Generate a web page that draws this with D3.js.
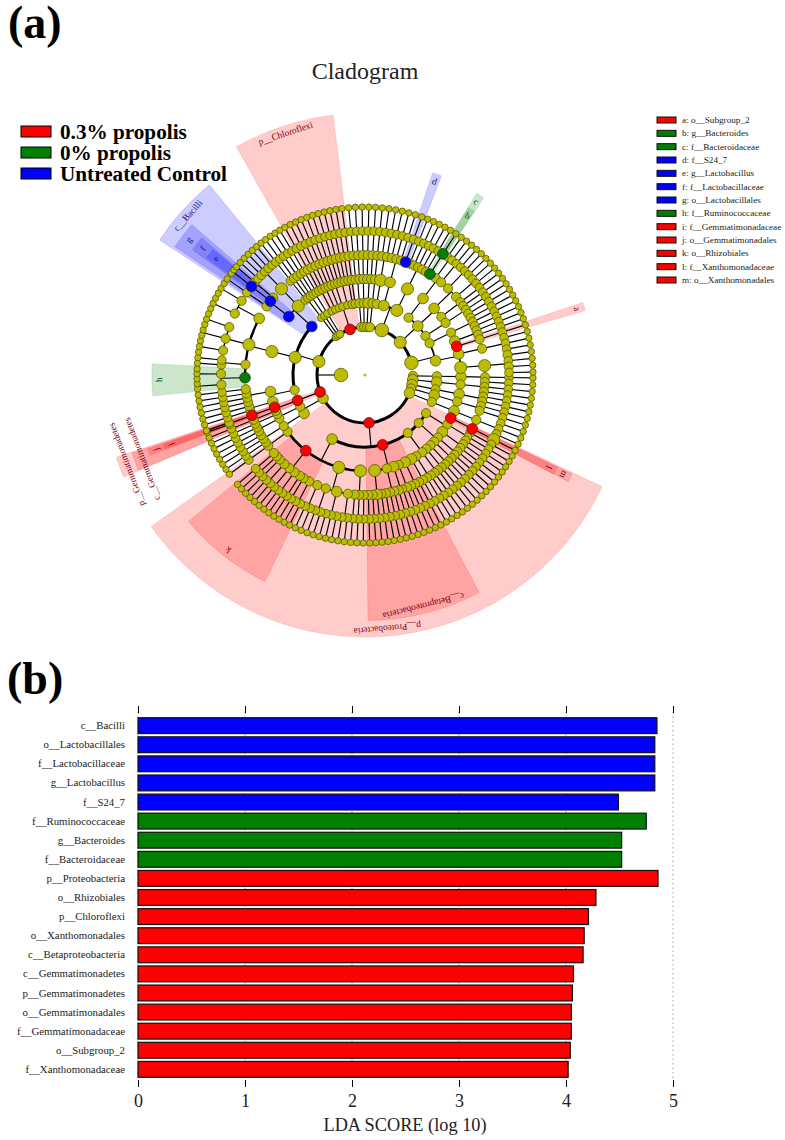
<!DOCTYPE html>
<html>
<head>
<meta charset="utf-8">
<script src="https://cdn.jsdelivr.net/npm/d3@7"></script>
<style>
  body { margin: 0; background: #fff; }
  text { font-family: "Liberation Serif", serif; }
</style>
</head>
<body>
<div id="chart"></div>
<script>
// Panel (b) values
const barNames = ["c__Bacilli", "o__Lactobacillales", "f__Lactobacillaceae", "g__Lactobacillus", "f__S24_7",
  "f__Ruminococcaceae", "g__Bacteroides", "f__Bacteroidaceae", "p__Proteobacteria", "o__Rhizobiales",
  "p__Chloroflexi", "o__Xanthomonadales", "c__Betaproteobacteria", "c__Gemmatimonadetes", "p__Gemmatimonadetes",
  "o__Gemmatimonadales", "f__Gemmatimonadaceae", "o__Subgroup_2", "f__Xanthomonadaceae"];
const barScores = [4.85, 4.83, 4.83, 4.83, 4.49, 4.75, 4.52, 4.52, 4.86, 4.28, 4.21, 4.17, 4.16, 4.07, 4.06, 4.05, 4.05, 4.04, 4.02];
const barGroups = ["ctrl", "ctrl", "ctrl", "ctrl", "ctrl", "zero", "zero", "zero", "prop", "prop", "prop", "prop", "prop", "prop", "prop", "prop", "prop", "prop", "prop"];
const scoreTicks = [0, 1, 2, 3, 4, 5];

// Groups
const groupKeys = ["prop", "zero", "ctrl"];
const groupNames = ["0.3% propolis", "0% propolis", "Untreated Control"];
const groupColors = ["#ff0000", "#008000", "#0000ff"];
const groupInk = ["#7a0010", "#005020", "#15157a"];

// Cladogram legend
const keyLabels = ["a: o__Subgroup_2", "b: g__Bacteroides", "c: f__Bacteroidaceae", "d: f__S24_7", "e: g__Lactobacillus",
  "f: f__Lactobacillaceae", "g: o__Lactobacillales", "h: f__Ruminococcaceae", "i: f__Gemmatimonadaceae",
  "j: o__Gemmatimonadales", "k: o__Rhizobiales", "l: f__Xanthomonadaceae", "m: o__Xanthomonadales"];
const keyGroups = ["prop", "zero", "zero", "ctrl", "ctrl", "ctrl", "ctrl", "zero", "prop", "prop", "prop", "prop", "prop"];

// Highlighted clades: tag used in the tree strings, label, group, span in degrees clockwise from the top
const cladeTags = ["P", "Q", "U", "S", "T", "V", "A", "G", "J", "K", "M", "C", "D", "F", "H", "I", "L", "B", "E"];
const cladeLabels = ["p__Proteobacteria", "p__Chloroflexi", "p__Gemmatimonadetes", "c__Bacilli", "c__Betaproteobacteria", "c__Gemmatimonadetes",
  "a", "g", "j", "k", "m", "c", "d", "f", "h", "i", "l", "b", "e"];
const cladeGroups = ["prop", "prop", "prop", "ctrl", "prop", "prop", "prop", "ctrl", "prop", "prop", "prop", "zero", "ctrl", "ctrl", "zero", "prop", "prop", "zero", "ctrl"];
const cladeStart = [115.2, 330.6, 247.1, 303.3, 152.3, 247.2, 71.6, 304, 249.5, 205.8, 115.5, 31.6, 18.5, 306, 264.4, 249.7, 115.6, 31.7, 306.5];
const cladeEnd = [234.7, 353, 251.7, 320.7, 179.3, 251.5, 73.7, 311, 251.2, 230.3, 117.7, 33.8, 21, 310, 273, 251, 117.7, 33.8, 309.5];

// Taxonomy tree, one string per phylum, clockwise from 3 o'clock.
// digit = abundance class, . = default class, capital = clade tag, () = children.
// A branch that stops early is carried on to the outer ring.
const phylumTrees = [
  "3(3(4))",
  "4(4(3(3.3)))",
  "4(3(4(..)))",
  "3(4(3(..)))",
  "4(3(4(3(..3))))",
  `4P(
    3(4M(4L(5)) 3(.2.) 4(..))
    3(3(..)3)
    3(3(..)3(.)3(..)3(..)4(.))
    4T(4(..3)3(.)4(2.)3(..)5(3.4.3))
    4(5(..3)
      5(3(..)4(...)3(..)3(..))
      4K(3(..)3 3 3(..)3 3(..)3 3 3)
      .)
  )`,
  "4(4(3(...))3(3(..)3))",
  "4U(4V(3 4J(4I(..))))",
  `5(
    3(4(..)4(....))
    5(5(4H(3(..)3(...)) 3(..) 5(3(...)3(..)3(...)) 4(3(...)3(...))))
    4S(4G(3 4F(4E(..)) 3) 5(5(.3.3.)))
  )`,
  "2(2(..))",
  "2(2(.))",
  "2(2(..))",
  "4Q(2(..)2 2(..)2 2(...)3 .)",
  "3(3(..))",
  "3(3(.))",
  "3(4(..))",
  "3(3(.))",
  "6(3(5(..)) 4(4(...)) 5(5(4D 3.3.3 4C(4B))))",
  "5(3(4(3(..)3)) 4(4(3(...)3(..))3(.)) 3(3(...)))",
  "6(3(3(...)) 4(4(..) 4A 4(3(...)) 5(5(3.3.))))"
];
const firstLeafAngle = 91;
const lastLeafAngle = 449;

// ---- tree helpers
function parseClade(str) {
  const s = str.replace(/\s+/g, "");
  let i = 0;
  function node() {
    const n = { size: null, tag: null, children: [] };
    if (/[0-9]/.test(s[i])) n.size = +s[i];
    i++;
    if (/[A-Z]/.test(s[i])) { n.tag = s[i]; i++; }
    if (s[i] === "(") {
      i++;
      while (s[i] !== ")") n.children.push(node());
      i++;
    }
    return n;
  }
  return node();
}

function carryOn(n, depth) {
  if (depth < 6 && n.children.length === 0) n.children.push({ size: null, tag: null, children: [] });
  n.children.forEach(c => carryOn(c, depth + 1));
}

const kingdom = { size: 6, tag: null, children: phylumTrees.map(parseClade) };
carryOn(kingdom, 0);
const root = d3.hierarchy(kingdom);
const leaves = root.leaves();
leaves.forEach((d, i) => d.leafIndex = i);

const unwrap = a => a < 90 ? a + 360 : a;
const toRad = a => a * Math.PI / 180;

// pin the leaves to the clade spans, deepest clade wins
const clades = cladeTags.map((tag, i) => {
  const node = root.descendants().find(d => d.data.tag === tag);
  return { tag, node, label: cladeLabels[i], group: cladeGroups[i], start: unwrap(cladeStart[i]), end: unwrap(cladeEnd[i]) };
});
const pins = new Map([[0, firstLeafAngle], [leaves.length - 1, lastLeafAngle]]);
clades.slice().sort((a, b) => a.node.depth - b.node.depth).forEach(c => {
  const ls = c.node.leaves();
  const span = c.end - c.start;
  if (ls.length === 1) { pins.set(ls[0].leafIndex, (c.start + c.end) / 2); return; }
  const m = Math.min(0.9, span / 4);
  pins.set(ls[0].leafIndex, c.start + m);
  pins.set(ls[ls.length - 1].leafIndex, c.end - m);
});
const pinList = Array.from(pins).sort((a, b) => a[0] - b[0]);
const leafAngle = d3.scaleLinear().domain(pinList.map(d => d[0])).range(pinList.map(d => d[1]));

// a node sits half way along the leaves below it
root.each(d => {
  const ls = d.leaves();
  d.angle = (leafAngle(ls[0].leafIndex) + leafAngle(ls[ls.length - 1].leafIndex)) / 2;
});

// ---- drawing
const width = 785, height = 1140;
const svg = d3.select("#chart").append("svg")
  .attr("width", width).attr("height", height)
  .style("display", "block");
svg.append("rect").attr("width", width).attr("height", height).attr("fill", "#fff");

const colorOf = d3.scaleOrdinal().domain(groupKeys).range(groupColors);
const inkOf = d3.scaleOrdinal().domain(groupKeys).range(groupInk);

svg.append("text").attr("x", 8).attr("y", 38).attr("font-size", 46).attr("font-weight", "bold").text("(a)");
svg.append("text").attr("x", 7).attr("y", 694).attr("font-size", 46).attr("font-weight", "bold").text("(b)");
svg.append("text").attr("x", 365).attr("y", 79).attr("text-anchor", "middle").attr("font-size", 24).attr("fill", "#222").text("Cladogram");

// group legend
const groupY = d3.scalePoint().domain(groupKeys).range([131.5, 173.5]);
const groupLegend = svg.append("g").selectAll("g").data(groupKeys).join("g")
  .attr("transform", d => `translate(21,${groupY(d)})`);
groupLegend.append("rect").attr("y", -5.5).attr("width", 30).attr("height", 11)
  .attr("fill", d => colorOf(d)).attr("stroke", "#000").attr("stroke-width", 1);
groupLegend.append("text").attr("x", 39).attr("y", 7).attr("font-size", 21.2).attr("font-weight", "bold")
  .text((d, i) => groupNames[i]);

// key legend
const keyY = d3.scalePoint().domain(keyLabels).range([120, 280]);
const keyLegend = svg.append("g").selectAll("g").data(keyLabels).join("g")
  .attr("transform", d => `translate(657,${keyY(d)})`);
keyLegend.append("rect").attr("y", -3).attr("width", 19).attr("height", 6)
  .attr("fill", (d, i) => colorOf(keyGroups[i])).attr("stroke", "#111").attr("stroke-width", 1);
keyLegend.append("text").attr("x", 25).attr("y", 3).attr("font-size", 9.2).attr("fill", "#222").text(d => d);

// cladogram
const clado = svg.append("g").attr("transform", "translate(365,375)");
const ringRadius = d3.scaleLinear().domain([0, 6]).range([24, 168]);
const wedgeOuter = d3.scaleLinear().domain([1, 5]).range([262, 197]);
const nodeRadius = d3.scaleLinear().domain([1, 7]).range([3.2, 7.5]);
const defaultClass = [6, 2, 2.4, 3, 2.9, 2.6, 1];
const arcWidth = d3.scaleLinear().domain([2, 30]).range([1, 3]).clamp(true);
const wedgeArc = d3.arc();

clado.append("g").selectAll("path").data(clades).join("path")
  .attr("d", c => wedgeArc({ innerRadius: ringRadius(c.node.depth), outerRadius: wedgeOuter(c.node.depth), startAngle: toRad(c.start), endAngle: toRad(c.end) }))
  .attr("fill", c => colorOf(c.group)).attr("fill-opacity", 0.2)
  .attr("stroke", c => colorOf(c.group)).attr("stroke-opacity", 0.12);

clado.append("g").selectAll("text").data(clades).join("text")
  .attr("transform", c => {
    const mid = (c.start + c.end) / 2;
    const [x, y] = d3.pointRadial(toRad(mid), wedgeOuter(c.node.depth) - 7.5);
    return `translate(${x},${y}) rotate(${mid})`;
  })
  .attr("text-anchor", "middle").attr("dominant-baseline", "central")
  .attr("font-size", 9.3).attr("fill", c => inkOf(c.group))
  .text(c => c.label);

const parents = root.descendants().filter(d => d.children);
clado.append("g").selectAll("line").data(parents).join("line")
  .attr("x1", d => d3.pointRadial(toRad(d.angle), ringRadius(d.depth))[0])
  .attr("y1", d => d3.pointRadial(toRad(d.angle), ringRadius(d.depth))[1])
  .attr("x2", d => d3.pointRadial(toRad(d.angle), ringRadius(d.depth + 1))[0])
  .attr("y2", d => d3.pointRadial(toRad(d.angle), ringRadius(d.depth + 1))[1])
  .attr("stroke", "#000").attr("stroke-width", 1.15);

clado.append("g").selectAll("path").data(parents.filter(d => d.children.length > 1)).join("path")
  .attr("d", d => wedgeArc({
    innerRadius: ringRadius(d.depth + 1), outerRadius: ringRadius(d.depth + 1),
    startAngle: toRad(d.children[0].angle), endAngle: toRad(d.children[d.children.length - 1].angle)
  }))
  .attr("fill", "none").attr("stroke", "#000")
  .attr("stroke-width", d => arcWidth(d.leaves().length));

const tagGroup = new Map(clades.map(c => [c.tag, c.group]));
const allNodes = root.descendants().sort((a, b) => (a.data.tag ? 1 : 0) - (b.data.tag ? 1 : 0) || b.depth - a.depth);
clado.append("g").selectAll("circle").data(allNodes).join("circle")
  .attr("cx", d => d3.pointRadial(toRad(d.angle), ringRadius(d.depth))[0])
  .attr("cy", d => d3.pointRadial(toRad(d.angle), ringRadius(d.depth))[1])
  .attr("r", d => nodeRadius(d.data.size === null ? defaultClass[d.depth] : d.data.size))
  .attr("fill", d => d.data.tag ? colorOf(tagGroup.get(d.data.tag)) : "#bcbc00")
  .attr("stroke", d => d.data.tag ? "#222" : "#4a4a00").attr("stroke-width", 0.7);

clado.append("circle").attr("r", 1.5).attr("fill", "#bcbc00");

// panel b
const x = d3.scaleLinear().domain([0, 5]).range([138, 673]);
const y = d3.scaleBand().domain(barNames).range([716, 1079]).paddingInner(0.17).paddingOuter(0.09);

svg.append("g").selectAll("line").data(scoreTicks).join("line")
  .attr("x1", d => x(d)).attr("x2", d => x(d)).attr("y1", 712).attr("y2", 1081)
  .attr("stroke", "#888").attr("stroke-width", 0.8).attr("stroke-dasharray", "1.5,3");

svg.append("g").selectAll("rect").data(barNames).join("rect")
  .attr("x", x(0))
  .attr("y", d => y(d))
  .attr("width", (d, i) => x(barScores[i]) - x(0))
  .attr("height", y.bandwidth())
  .attr("fill", (d, i) => colorOf(barGroups[i]))
  .attr("stroke", "#111").attr("stroke-width", 1.2);

svg.append("g").selectAll("text").data(barNames).join("text")
  .attr("x", 125).attr("y", d => y(d) + y.bandwidth() / 2)
  .attr("dy", "0.33em").attr("text-anchor", "end")
  .attr("font-size", 10.8).attr("fill", "#222").text(d => d);

const axisTop = svg.append("g").attr("transform", "translate(0,713)")
  .call(d3.axisTop(x).tickValues(scoreTicks).tickSize(7).tickFormat(""));
axisTop.select(".domain").remove();

const axisBottom = svg.append("g").attr("transform", "translate(0,1080)")
  .call(d3.axisBottom(x).tickValues(scoreTicks).tickSize(7).tickPadding(7).tickFormat(d3.format("d")));
axisBottom.select(".domain").remove();
axisBottom.selectAll("text").attr("font-size", 18).attr("fill", "#222").style("font-family", "Liberation Serif");

svg.append("text").attr("x", 405).attr("y", 1131).attr("text-anchor", "middle")
  .attr("font-size", 18.3).attr("fill", "#222").text("LDA SCORE (log 10)");
</script>
</body>
</html>
